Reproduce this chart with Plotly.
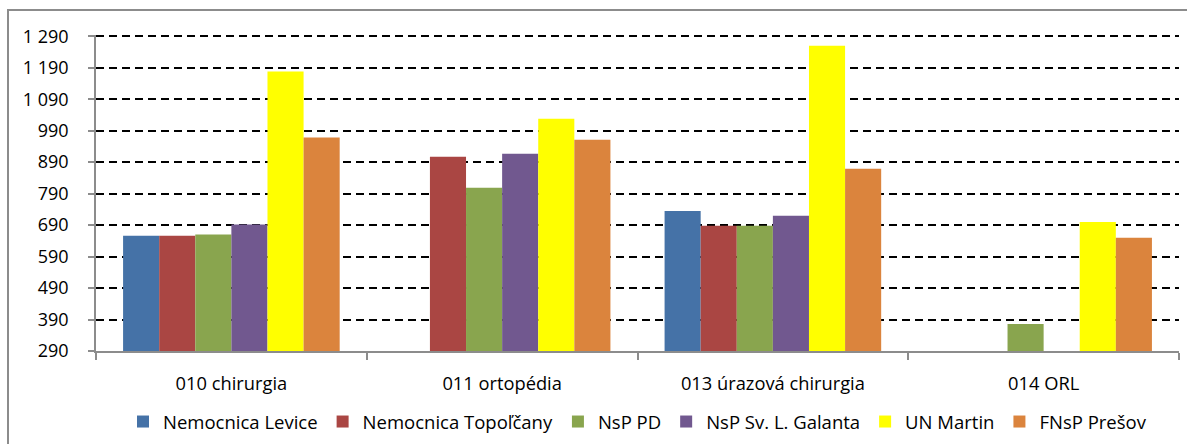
import plotly.graph_objects as go

categories = ["010 chirurgia", "011 ortopédia", "013 úrazová chirurgia", "014 ORL"]

series_names = ["Nemocnica Levice", "Nemocnica Topoľčany", "NsP PD",
                "NsP Sv. L. Galanta", "UN Martin", "FNsP Prešov"]

levice = [656, None, 735, None]
topolcany = [656, 907, 688, None]
nsp_pd = [660, 809, 688, 376]
galanta = [692, 917, 720, None]
un_martin = [1178, 1028, 1260, 700]
presov = [968, 961, 869, 650]

series_values = [levice, topolcany, nsp_pd, galanta, un_martin, presov]
colors = ["#4572A7", "#AA4643", "#89A54E", "#71588F", "#FFFF00", "#DB843D"]

y_tick_vals = [290, 390, 490, 590, 690, 790, 890, 990, 1090, 1190, 1290]
y_tick_text = ["290", "390", "490", "590", "690", "790", "890", "990",
               "1 090", "1 190", "1 290"]

FONT = "Open Sans, Lato, sans-serif"
FS = 18

fig = go.Figure()
for name, vals, col in zip(series_names, series_values, colors):
    fig.add_trace(go.Bar(x=categories, y=vals, name=name,
                         marker=dict(color=col, line=dict(width=0))))

W, H = 1187, 444
ml, mr, mt, mb = 96, 8, 35, 93
pw = W - ml - mr
ph = H - mt - mb

fig.update_layout(
    width=W, height=H, autosize=False,
    margin=dict(l=ml, r=mr, t=mt, b=mb, pad=0, autoexpand=False),
    paper_bgcolor="white", plot_bgcolor="white",
    barmode="group", bargap=0.2, bargroupgap=0,
    font=dict(family=FONT, size=FS, color="black"),
    showlegend=True,
    legend=dict(orientation="h", x=0.5, xanchor="center",
                y=-(422 - (H - mb)) / ph, yanchor="middle",
                font=dict(family=FONT, size=18.5, color="black"),
                itemwidth=30, tracegroupgap=0, traceorder="normal"),
    xaxis=dict(type="category", showline=True, linecolor="#8c8c8c", linewidth=1.5,
               ticks="outside", ticklen=7, tickcolor="#8c8c8c", tickwidth=1.5,
               tickson="boundaries", showgrid=False, automargin=False,
               ticklabelstandoff=15,
               tickfont=dict(family=FONT, size=18.3, color="black")),
    yaxis=dict(range=[290, 1294], showline=True, linecolor="#8c8c8c", linewidth=1.5,
               ticks="outside", ticklen=6, tickcolor="#8c8c8c", tickwidth=1.5,
               tickmode="array", tickvals=y_tick_vals, ticktext=y_tick_text,
               showgrid=True, gridcolor="black", gridwidth=1.5, griddash="8px,5px",
               zeroline=False, ticklabelstandoff=16, automargin=False,
               tickfont=dict(family=FONT, size=FS, color="black")),
    shapes=[dict(type="rect", xref="paper", yref="paper",
                 x0=(8 - ml) / pw, x1=(W + 20 - ml) / pw,
                 y0=-(mb + 20) / ph, y1=1 + (mt - 10) / ph,
                 line=dict(color="#8c8c8c", width=2), fillcolor="rgba(0,0,0,0)",
                 layer="below")],
)

fig.write_html("out.html", config={"responsive": False, "displayModeBar": False},
               post_script="document.body.style.margin='0';"
                           "document.body.style.overflow='hidden';")
